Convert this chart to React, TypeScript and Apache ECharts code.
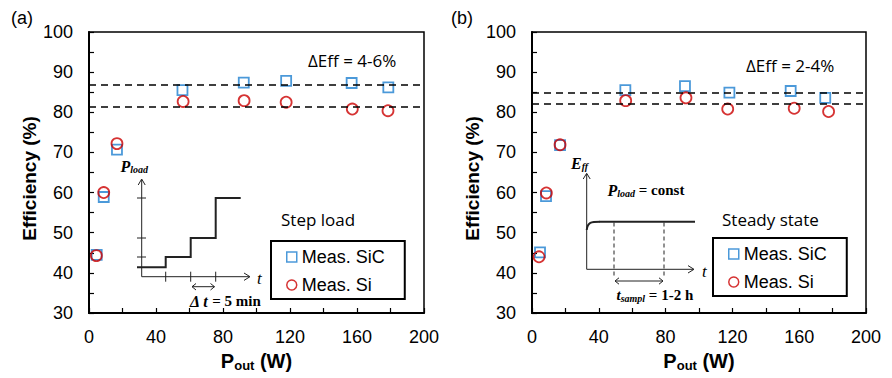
import React, { useEffect, useRef } from "react";
import * as echarts from "echarts";

// ---- data ----
const xTicks = [0, 40, 80, 120, 160, 200];
const sicPowerA = [4.6, 8.8, 16.7, 55.8, 92.4, 117.7, 156.8, 178.7];
const sicEffA = [44.5, 58.9, 70.7, 85.5, 87.4, 87.8, 87.3, 86.2];
const siPowerA = [4.4, 8.8, 16.7, 56.2, 92.6, 117.7, 157.2, 178.5];
const siEffA = [44.3, 60.0, 72.2, 82.7, 82.9, 82.5, 80.8, 80.4];
const dashA = [86.9, 81.5];

const sicPowerB = [4.8, 8.4, 16.8, 55.9, 91.6, 118.2, 154.9, 175.6];
const sicEffB = [45.1, 59.1, 71.8, 85.5, 86.5, 84.9, 85.3, 83.6];
const siPowerB = [4.2, 8.6, 16.8, 56.1, 92.2, 117.2, 157.0, 177.6];
const siEffB = [44.0, 59.9, 71.9, 82.9, 83.6, 80.8, 81.0, 80.2];
const dashB = [84.9, 82.1];

const seriesNames = ["Meas. SiC", "Meas. Si"];
const annotA = { delta: "ΔEff = 4-6%", mode: "Step load" };
const annotB = { delta: "ΔEff = 2-4%", mode: "Steady state" };

const BLUE = "#1E7FD0";
const RED = "#CC0000";
const SANS = "'Liberation Sans', Arial, sans-serif";
const SERIF = "'Liberation Serif', 'DejaVu Serif', serif";
const CAL = "'Open Sans', 'Noto Sans', sans-serif";

function zip(xs: number[], ys: number[]) {
  return xs.map((x, i) => [x, ys[i]]);
}

function xAxisFor(gi: number) {
  return {
    type: "value",
    gridIndex: gi,
    min: 0,
    max: 200,
    interval: 20,
    name: "{a|P}{s|out}{a| (W)}",
    nameLocation: "middle",
    nameGap: 36,
    nameTextStyle: {
      rich: {
        a: { fontFamily: SANS, fontWeight: "bold", fontSize: 20, color: "#000" },
        s: { fontFamily: SANS, fontWeight: "bold", fontSize: 13, color: "#000", verticalAlign: "bottom", padding: [10, 0, 0, 0] },
      },
    },
    axisLine: { show: true, onZero: false, lineStyle: { color: "#000", width: 2 } },
    axisTick: { show: true, inside: true, length: 5, lineStyle: { color: "#000", width: 1.2 } },
    axisLabel: {
      margin: 15,
      fontFamily: SANS,
      fontSize: 18,
      color: "#000",
      formatter: (v: number) => (xTicks.indexOf(v) >= 0 ? String(v) : ""),
    },
    splitLine: { show: false },
  };
}

function yAxisFor(gi: number) {
  return {
    type: "value",
    gridIndex: gi,
    min: 30,
    max: 100,
    interval: 10,
    name: "Efficiency (%)",
    nameLocation: "middle",
    nameGap: 48,
    nameTextStyle: { fontFamily: SANS, fontWeight: "bold", fontSize: 19, color: "#000", padding: [0, 12, 0, 0] },
    axisLine: { show: true, onZero: false, lineStyle: { color: "#000", width: 2 } },
    axisTick: { show: true, inside: true, length: 5, lineStyle: { color: "#000", width: 1.2 } },
    minorTick: { show: true, splitNumber: 2, length: 5, lineStyle: { color: "#000", width: 1.2 } },
    axisLabel: { margin: 16, fontFamily: SANS, fontSize: 18, color: "#000" },
    splitLine: { show: false },
    minorSplitLine: { show: false },
  };
}

function seriesFor(gi: number, sicX: number[], sicY: number[], siX: number[], siY: number[], dash: number[]) {
  return [
    {
      name: seriesNames[0],
      type: "scatter",
      xAxisIndex: gi,
      yAxisIndex: gi,
      symbol: "rect",
      symbolSize: 10,
      itemStyle: { color: "rgba(255,255,255,0)", borderColor: BLUE, borderWidth: 1.8 },
      data: zip(sicX, sicY),
      markLine: {
        silent: true,
        symbol: ["none", "none"],
        label: { show: false },
        lineStyle: { color: "#000", type: [7, 5], width: 1.5 },
        data: dash.map((v) => ({ yAxis: v })),
      },
      z: 3,
    },
    {
      name: seriesNames[1],
      type: "scatter",
      xAxisIndex: gi,
      yAxisIndex: gi,
      symbol: "circle",
      symbolSize: 11,
      itemStyle: { color: "rgba(255,255,255,0)", borderColor: RED, borderWidth: 1.8 },
      data: zip(siX, siY),
      z: 4,
    },
  ];
}

function legendFor(left: number, top: number) {
  return {
    orient: "vertical",
    left,
    top,
    borderColor: "#000",
    borderWidth: 2,
    padding: [6, 20, 4, 15],
    itemGap: 8,
    itemWidth: 10,
    itemHeight: 10,
    backgroundColor: "#fff",
    textStyle: { fontFamily: SANS, fontSize: 18, color: "#000", lineHeight: 20 },
    data: [
      { name: seriesNames[0], icon: "rect", itemStyle: { color: "rgba(255,255,255,0)", borderColor: BLUE, borderWidth: 1.5 } },
      { name: seriesNames[1], icon: "circle", itemStyle: { color: "rgba(255,255,255,0)", borderColor: RED, borderWidth: 1.5 } },
    ],
    selectedMode: false,
  };
}

function ln(x1: number, y1: number, x2: number, y2: number, w = 1, dash?: number[]) {
  return {
    type: "line",
    z: 50,
    shape: { x1, y1, x2, y2 },
    style: { stroke: "#222", lineWidth: w, lineDash: dash },
  };
}
function pl(points: number[][], w = 1) {
  return { type: "polyline", z: 50, shape: { points }, style: { stroke: "#222", lineWidth: w, fill: null } };
}
function txt(x: number, y: number, text: string, style: any) {
  return { type: "text", z: 51, x, y, style: { text, fill: "#000", verticalAlign: "middle", ...style } };
}

function insetA() {
  const ox = 141.7, oy = 276.7;
  const els: any[] = [];
  els.push(ln(ox, oy, ox, 180));
  els.push(pl([[ox - 3.5, 185], [ox, 179], [ox + 3.5, 185]]));
  els.push(ln(ox, oy, 249, oy));
  els.push(pl([[244, oy - 3.7], [250, oy], [244, oy + 3.7]]));
  [198, 238, 257].forEach((y) => els.push(ln(137, y, 146, y)));
  [165.7, 190.7, 215.7].forEach((x) => els.push(ln(x, oy - 5, x, oy + 5)));
  els.push(
    pl(
      [
        [137, 267.3], [165.7, 267.3], [165.7, 257], [190.7, 257], [190.7, 238],
        [215.7, 238], [215.7, 198], [240.7, 198],
      ],
      2
    )
  );
  els.push(ln(192, 286.7, 214.5, 286.7));
  els.push(pl([[196, 283.5], [192, 286.7], [196, 290]]));
  els.push(pl([[210.5, 283.5], [214.5, 286.7], [210.5, 290]]));
  els.push(
    txt(120.5, 166, "{p|P}{s|load}", {
      rich: {
        p: { fontFamily: SERIF, fontStyle: "italic", fontWeight: "bold", fontSize: 16, fill: "#000" },
        s: { fontFamily: SERIF, fontStyle: "italic", fontWeight: "bold", fontSize: 10, fill: "#000", verticalAlign: "bottom", padding: [6, 0, 0, 0] },
      },
    })
  );
  els.push(txt(257, 278, "t", { fontFamily: SERIF, fontStyle: "italic", fontSize: 17 }));
  els.push(
    txt(190, 301, "{i|Δ t} = 5 min", {
      fontFamily: SERIF,
      fontWeight: "bold",
      fontSize: 15,
      rich: { i: { fontFamily: SERIF, fontStyle: "italic", fontWeight: "bold", fontSize: 16, fill: "#000" } },
    })
  );
  return els;
}

function insetB() {
  const ox = 586.7, oy = 269.3;
  const els: any[] = [];
  els.push(ln(ox, oy, ox, 174));
  els.push(pl([[ox - 3.5, 179], [ox, 173.3], [ox + 3.5, 179]]));
  els.push(ln(ox, oy, 693, oy));
  els.push(pl([[688, oy - 3.7], [694, oy], [688, oy + 3.7]]));
  els.push({
    type: "bezierCurve",
    z: 50,
    shape: { x1: ox, y1: 230, cpx1: ox + 1, cpy1: 222, cpx2: 591, cpy2: 221.7, x2: 600, y2: 221.7 },
    style: { stroke: "#222", lineWidth: 2, fill: null },
  });
  els.push(ln(599.5, 221.7, 695, 221.7, 2));
  els.push(ln(614, 222.5, 614, 277, 1, [4, 3]));
  els.push(ln(664, 222.5, 664, 277, 1, [4, 3]));
  els.push(ln(615, 281, 663, 281));
  els.push(pl([[619, 277.8], [615, 281], [619, 284.2]]));
  els.push(pl([[659, 277.8], [663, 281], [659, 284.2]]));
  els.push(
    txt(571, 163, "{p|E}{s|ff}", {
      rich: {
        p: { fontFamily: SERIF, fontStyle: "italic", fontWeight: "bold", fontSize: 16, fill: "#000" },
        s: { fontFamily: SERIF, fontStyle: "italic", fontWeight: "bold", fontSize: 10, fill: "#000", verticalAlign: "bottom", padding: [6, 0, 0, 0] },
      },
    })
  );
  els.push(
    txt(607.5, 190, "{p|P}{s|load}{r| = const}", {
      rich: {
        p: { fontFamily: SERIF, fontStyle: "italic", fontWeight: "bold", fontSize: 16, fill: "#000" },
        s: { fontFamily: SERIF, fontStyle: "italic", fontWeight: "bold", fontSize: 10, fill: "#000", verticalAlign: "bottom", padding: [6, 0, 0, 0] },
        r: { fontFamily: SERIF, fontWeight: "bold", fontSize: 15, fill: "#000" },
      },
    })
  );
  els.push(
    txt(616.5, 295, "{p|t}{s|sampl}{r| = 1-2 h}", {
      rich: {
        p: { fontFamily: SERIF, fontStyle: "italic", fontWeight: "bold", fontSize: 15, fill: "#000" },
        s: { fontFamily: SERIF, fontStyle: "italic", fontWeight: "bold", fontSize: 10, fill: "#000", verticalAlign: "bottom", padding: [6, 0, 0, 0] },
        r: { fontFamily: SERIF, fontWeight: "bold", fontSize: 15, fill: "#000" },
      },
    })
  );
  els.push(txt(702, 271, "t", { fontFamily: SERIF, fontStyle: "italic", fontSize: 17 }));
  return els;
}

export default function App() {
  const ref = useRef<HTMLDivElement>(null);
  useEffect(() => {
    if (!ref.current) return;
    const chart = echarts.init(ref.current, undefined, { renderer: "svg" });
    const option: any = {
      animation: false,
      backgroundColor: "#fff",
      grid: [
        { left: 89, right: 468, top: 32, bottom: 65, show: true, borderColor: "#000", borderWidth: 1.5, backgroundColor: "transparent" },
        { left: 532, right: 26, top: 32, bottom: 65, show: true, borderColor: "#000", borderWidth: 1.5, backgroundColor: "transparent" },
      ],
      xAxis: [xAxisFor(0), xAxisFor(1)],
      yAxis: [yAxisFor(0), yAxisFor(1)],
      legend: [legendFor(271, 241), legendFor(713, 238)],
      series: [
        ...seriesFor(0, sicPowerA, sicEffA, siPowerA, siEffA, dashA),
        ...seriesFor(1, sicPowerB, sicEffB, siPowerB, siEffB, dashB),
      ],
      graphic: [
        txt(11, 18, "(a)", { fontFamily: SANS, fontSize: 18 }),
        txt(451, 18, "(b)", { fontFamily: SANS, fontSize: 18 }),
        txt(308, 60, annotA.delta, { fontFamily: CAL, fontSize: 17 }),
        txt(281, 219, annotA.mode, { fontFamily: CAL, fontSize: 17 }),
        txt(746, 65, annotB.delta, { fontFamily: CAL, fontSize: 17 }),
        txt(722, 219, annotB.mode, { fontFamily: CAL, fontSize: 17 }),
        ...insetA(),
        ...insetB(),
      ],
    };
    chart.setOption(option);
    return () => chart.dispose();
  }, []);
  return (
    <div
      ref={ref}
      style={{ position: "fixed", left: 0, top: 0, width: 892, height: 378, background: "#fff" }}
    />
  );
}
